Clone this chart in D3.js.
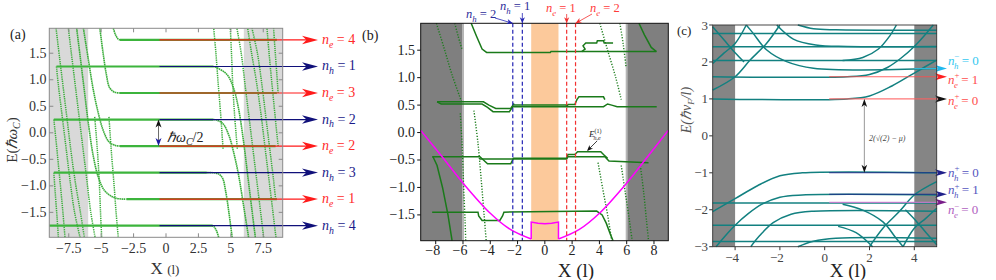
<!DOCTYPE html>
<html><head><meta charset="utf-8">
<script src="https://cdn.jsdelivr.net/npm/d3@7"></script>
<style>body{margin:0;background:#fff}svg{display:block}</style>
</head><body>
<svg id="c" width="996" height="280"></svg>
<script>
// ================= DATA =================
// ---- panel (a)
const aXTicks=[-7.5,-5,-2.5,0,2.5,5,7.5];
const aXTickLabels=["−7.5","−5","−2.5","0","2.5","5","7.5"];
const aYTicks=[-1.5,-1,-0.5,0,0.5,1,1.5];
const aYTickLabels=["−1.5","−1.0","−0.5","0.0","0.5","1.0","1.5"];
const aGrayBands=[[-9,-6],[6,9]];
const aLevels=[1.75,1.25,0.75,0.25,-0.25,-0.75,-1.25,-1.75];
const aLevelType=["e","h","e","h","e","h","e","h"];
const aLevelIndex=["4","1","3","2","2","3","1","4"];
const aPlateauStart=[-3.55,-8.45,-3.55,-8.65,-3.55,-8.65,-3.05,-9];
const aPlateauEnd=[8.55,3.65,8.55,3.65,8.45,3.15,8.55,3.6];
const aArrowStartX=-0.5;
const aCurves=[
 [[-4.06,1.97],[-3.9,1.85],[-3.7,1.77],[-3.55,1.75]],
 [[-5.1,1.97],[-4.85,1.5],[-4.6,1.1],[-4.35,0.85],[-4.0,0.77],[-3.55,0.75]],
 [[-6.37,1.97],[-6.0,1.4],[-5.6,0.8],[-5.2,0.35],[-4.85,0.05],[-4.4,-0.17],[-3.9,-0.24],[-3.55,-0.25]],
 [[-6.89,1.97],[-6.6,1.4],[-6.3,0.8],[-6.0,0.2],[-5.6,-0.45],[-5.2,-0.85],[-4.7,-1.1],[-3.9,-1.23],[-3.05,-1.25]],
 [[4.06,-1.97],[3.9,-1.85],[3.7,-1.77],[3.55,-1.75]],
 [[5.1,-1.97],[4.85,-1.5],[4.6,-1.1],[4.35,-0.85],[4.0,-0.77],[3.15,-0.75]],
 [[6.37,-1.97],[6.0,-1.4],[5.6,-0.8],[5.2,-0.35],[4.85,-0.05],[4.4,0.17],[3.9,0.24],[3.65,0.25]],
 [[6.89,-1.97],[6.6,-1.4],[6.3,-0.8],[6.0,-0.2],[5.6,0.45],[5.2,0.85],[4.7,1.1],[3.9,1.23],[3.65,1.25]]
];
const aDotted=[
 [[-8.45,1.25],[-8.3,0.9],[-8.0,0.3],[-7.7,-0.3],[-7.4,-0.9],[-7.05,-1.5],[-6.63,-1.97]],
 [[-8.65,0.25],[-8.5,-0.1],[-8.3,-0.6],[-8.1,-1.1],[-7.95,-1.5],[-7.79,-1.97]],
 [[-8.65,-0.75],[-8.55,-1.1],[-8.4,-1.6],[-8.3,-1.97]],
 [[-7.53,1.97],[-7.3,1.5],[-7.0,0.9],[-6.7,0.3],[-6.4,-0.3],[-6.1,-0.9],[-5.8,-1.5],[-5.47,-1.97]],
 [[-8.48,1.97],[-8.2,1.4],[-7.9,0.8],[-7.6,0.2],[-7.3,-0.4],[-6.95,-1.0],[-6.6,-1.5],[-6.3,-1.97]],
 [[-5.5,0.3],[-5.3,-0.3],[-5.15,-0.9],[-5.05,-1.5],[-4.96,-1.97]],
 [[-4.4,0.3],[-4.2,-0.4],[-4.0,-1.0],[-3.85,-1.5],[-3.68,-1.97]],
 [[8.45,-1.25],[8.3,-0.9],[8.0,-0.3],[7.7,0.3],[7.4,0.9],[7.05,1.5],[6.63,1.97]],
 [[8.65,-0.25],[8.5,0.1],[8.3,0.6],[8.1,1.1],[7.95,1.5],[7.79,1.97]],
 [[8.65,0.75],[8.55,1.1],[8.4,1.6],[8.3,1.97]],
 [[7.53,-1.97],[7.3,-1.5],[7.0,-0.9],[6.7,-0.3],[6.4,0.3],[6.1,0.9],[5.8,1.5],[5.47,1.97]],
 [[8.48,-1.97],[8.2,-1.4],[7.9,-0.8],[7.6,-0.2],[7.3,0.4],[6.95,1.0],[6.6,1.5],[6.3,1.97]],
 [[5.5,-0.3],[5.3,0.3],[5.15,0.9],[5.05,1.5],[4.96,1.97]],
 [[4.4,-0.3],[4.2,0.4],[4.0,1.0],[3.85,1.5],[3.68,1.97]]
];

// ---- panel (b)
const bXTicks=[-8,-6,-4,-2,0,2,4,6,8];
const bYTicks=[-1.5,-1,-0.5,0,0.5,1,1.5];
const bYTickLabels=["−1.5","−1.0","−0.5","0.0","0.5","1.0","1.5"];
const bDarkBands=[[-9.1,-6],[6,9.05]];
const bOrangeBand=[-1,1];
const bHoleDashes=[-2.35,-1.65];
const bElecDashes=[1.6,2.25];
const bPotentialLeft=[[-9.1,0.04],[-7.5,-0.45],[-6,-0.92],[-4,-1.47],[-2.5,-1.77],[-1,-1.94]];
const bPotentialMid=[[-1,-1.94],[-1,-1.63],[-0.5,-1.65],[0,-1.66],[0.5,-1.65],[1,-1.63],[1,-1.94]];
const bPotentialRight=[[1,-1.94],[2.5,-1.77],[4,-1.47],[6,-0.92],[7.5,-0.45],[9.05,0.04]];
const bSolid=[
 [[-5.4,1.99],[-5.0,1.75],[-4.6,1.52],[-4.27,1.46],[0.4,1.46],[0.45,1.475],[8.18,1.475]],
 [[2.7,1.475],[2.95,1.52],[2.8,1.58],[3.0,1.63],[3.8,1.63],[3.85,1.67],[4.3,1.67],[4.35,1.63],[5.0,1.63]],
 [[6.9,1.99],[7.3,1.78],[7.8,1.55],[8.18,1.475]],
 [[-7.9,0.56],[-4.5,0.56],[-4.1,0.5],[-3.6,0.44],[-2.5,0.44],[-2.25,0.53]],
 [[-7.9,0.56],[-7.6,0.52],[-4.6,0.52],[-4.2,0.46],[-3.8,0.38],[-2.6,0.38],[-2.35,0.47],[1.6,0.47],[1.7,0.51],[2.2,0.51],[2.35,0.6],[2.5,0.65],[4.3,0.65],[4.4,0.6]],
 [[-2.3,0.5],[1.55,0.5],[1.65,0.47],[4.3,0.47],[4.6,0.52],[4.9,0.5],[5.3,0.47],[8.2,0.47]],
 [[-8.26,-0.44],[-4.76,-0.44],[-4.5,-0.5],[-4.2,-0.57],[-2.5,-0.57],[-2.3,-0.47],[1.6,-0.47],[1.7,-0.4],[2.2,-0.4],[2.4,-0.35],[4.1,-0.35],[4.3,-0.4],[4.6,-0.47]],
 [[-4.8,-0.48],[1.6,-0.48],[1.7,-0.44],[4.4,-0.44],[4.7,-0.52],[7.6,-0.55]],
 [[-8.26,-1.45],[-4.9,-1.45],[-4.85,-1.52],[-4.6,-1.6],[-3.3,-1.6],[-3.1,-1.52],[-3.0,-1.45],[3.8,-1.43],[4.2,-1.5],[4.5,-1.65],[4.8,-1.85],[5.0,-1.97]],
 [[-8.2,-0.44],[-7.9,-0.6],[-7.5,-1.0],[-7.1,-1.5],[-6.8,-1.97]]
];
const bDotted=[
 [[-7.95,1.99],[-7.4,1.55],[-6.8,1.05],[-6.1,0.56]],
 [[-6.6,1.99],[-6.35,1.75],[-6.05,1.5]],
 [[-6.2,0.35],[-6.05,-0.3],[-5.95,-1.0],[-5.85,-1.6],[-5.8,-1.97]],
 [[-5.2,0.4],[-4.9,-0.2],[-4.65,-0.9],[-4.45,-1.5],[-4.3,-1.97]],
 [[4.03,1.99],[4.6,1.5],[5.2,1.0],[5.6,0.6]],
 [[5.5,1.99],[5.75,1.6],[5.95,1.2]],
 [[3.9,-0.55],[4.3,-1.1],[4.6,-1.5],[4.9,-1.97]],
 [[5.6,-0.6],[5.9,-1.1],[6.2,-1.6],[6.4,-1.97]],
 [[7.0,-0.6],[7.25,-1.1],[7.45,-1.6],[7.6,-1.97]]
];

// ---- panel (c)
const cXTicks=[-4,-2,0,2,4];
const cYTicks=[-3,-2,-1,0,1,2,3];
const cGrayBands=[[-5,-4],[4,5]];
const cFull=[2.77,2.41,2.04,-1.82,-2.42,-2.86];
const cCurves=[
 [[-5,1.0],[1.0,1.0],[2.0,1.08],[3.0,1.35],[4.0,1.7],[5,2.05]],
 [[-5,1.6],[1.0,1.6],[2.0,1.66],[2.8,1.85],[3.4,2.1],[4.0,2.42],[4.5,2.75],[4.85,3.0]],
 [[0.8,2.04],[1.7,2.12],[2.4,2.35],[2.9,2.7],[3.2,3.0]],
 [[-3.5,3],[-3.2,2.78],[-2.6,2.33],[-1.7,2.01],[-0.5,1.83],[5,1.82]],
 [[-2.14,3],[-1.4,2.62],[-0.4,2.46],[1,2.42],[5,2.42]],
 [[-1.2,3],[-0.5,2.9],[0.5,2.87],[5,2.86]],
 [[-5,1.24],[-4,1.6],[-3.33,2.05],[-2.6,2.5],[-2.0,3]],
 [[-5,1.96],[-4.5,2.24],[-4,2.5],[-3.5,3]],
 [[-5,2.95],[-4.5,2.6],[-4,2.25],[-3.6,2.0]],
 [[5,-1.0],[-1.0,-1.0],[-2.0,-1.08],[-3.0,-1.35],[-4.0,-1.7],[-5,-2.05]],
 [[5,-1.6],[-1.0,-1.6],[-2.0,-1.66],[-2.8,-1.85],[-3.4,-2.1],[-4.0,-2.42],[-4.5,-2.75],[-4.85,-3.0]],
 [[5,-2.04],[-0.5,-2.04],[-1.5,-2.12],[-2.3,-2.35],[-2.9,-2.7],[-3.3,-3.0]],
 [[5,-2.77],[0.5,-2.77],[-0.5,-2.85],[-1.2,-3.0]],
 [[3.5,-3],[3.2,-2.78],[2.6,-2.33],[1.7,-2.01],[0.8,-1.85]],
 [[2.14,-3],[1.4,-2.62],[0.6,-2.45]],
 [[5,-1.24],[4,-1.6],[3.33,-2.05],[2.6,-2.5],[2.0,-3]],
 [[5,-1.96],[4.5,-2.24],[4,-2.5],[3.5,-3]],
 [[5,-2.95],[4.5,-2.6],[4,-2.25],[3.6,-2.0]]
];
const cArrowE=[1.82,1.6,1.0,-1.0,-1.58,-1.8];
const cArrowStart=[4.0,0.2,0.2,0.2,0.2,0.2];
const cArrowSub=["h","e","e","h","h","e"];
const cArrowSup=["−","+","+","+","+","−"];
const cArrowVal=["0","1","0","0","1","0"];
const cLineColor=["#33c8f0","#ff4d4d","#ff6060","#23238a","#23238a","#d27ad2"];
const cHeadColor=["#1fb8ee","#ff2020","#111111","#20208a","#20208a","#7a1e8a"];
const cTextColor=["#33c8f0","#ff4d4d","#ff4d4d","#5555c0","#5555c0","#b060c0"];
const cLabelShift=[-4,7,6,4,0,12];

// ================= DRAW =================
const svg=d3.select('#c');
const serif="'Liberation Serif','Times New Roman',serif";

function head(g,x1,y1,x2,y2,color,L,Wd){
  const a=Math.atan2(y2-y1,x2-x1),c=Math.cos(a),s=Math.sin(a);
  const bx=x2-L*c,by=y2-L*s,nx=x2-L*0.72*c,ny=y2-L*0.72*s;
  const p=[[x2,y2],[bx-Wd*s,by+Wd*c],[nx,ny],[bx+Wd*s,by-Wd*c]];
  g.append('path').attr('d','M'+p.map(q=>q.join(',')).join('L')+'Z').attr('fill',color);
}
function nLabel(g,x,y,sub,sup,rest,color,fs){
  const t=g.append('text').attr('x',x).attr('y',y).attr('fill',color)
    .attr('font-family',serif).attr('font-size',fs);
  t.append('tspan').attr('font-style','italic').text('n');
  if(sup){
    t.append('tspan').attr('font-size',fs*0.68).attr('dy',-fs*0.42).text(sup);
    t.append('tspan').attr('font-size',fs*0.68).attr('font-style','italic').attr('dx',-fs*0.42).attr('dy',fs*0.72).text(sub);
    t.append('tspan').attr('dy',-fs*0.3).text('\u00a0=\u00a0'+rest);
  } else {
    t.append('tspan').attr('font-size',fs*0.7).attr('font-style','italic').attr('dy',fs*0.28).text(sub);
    t.append('tspan').attr('dy',-fs*0.28).text('\u00a0=\u00a0'+rest);
  }
}

// ---------- Panel (a) ----------
{
const x=d3.scaleLinear().domain([-9,9]).range([49.3,282.7]);
const y=d3.scaleLinear().domain([-1.97,1.97]).range([237.3,28.3]);
const g=svg.append('g');
const line=d3.line().x(d=>x(d[0])).y(d=>y(d[1])).curve(d3.curveCatmullRom.alpha(0.5));
g.selectAll('rect.gb').data(aGrayBands).join('rect')
 .attr('x',d=>x(d[0])).attr('width',d=>x(d[1])-x(d[0])).attr('y',y(1.97)).attr('height',y(-1.97)-y(1.97)).attr('fill','#d9d9d9');
g.selectAll('path.dot').data(aDotted).join('path').attr('d',line).attr('fill','none')
 .attr('stroke','#3aad3a').attr('stroke-width',1.5).attr('stroke-dasharray','1.3 0.9');
g.selectAll('path.cv').data(aCurves).join('path').attr('d',line).attr('fill','none')
 .attr('stroke','#3aad3a').attr('stroke-width',1.6).attr('stroke-dasharray','1.6 0.5');
g.selectAll('line.pl').data(aLevels).join('line')
 .attr('x1',(d,i)=>x(aPlateauStart[i])).attr('x2',(d,i)=>x(aPlateauEnd[i]))
 .attr('y1',d=>y(d)).attr('y2',d=>y(d)).attr('stroke','#3cb43c').attr('stroke-width',2.2);
const xEnd=318;
aLevels.forEach((E,i)=>{
  const col=aLevelType[i]==='e'?'#ff1a1a':'#10107a';
  g.append('line').attr('x1',x(aArrowStartX)).attr('x2',xEnd-8).attr('y1',y(E)).attr('y2',y(E)).attr('stroke',col).attr('stroke-width',1.2);
  head(g,xEnd-20,y(E),xEnd,y(E),col,16,4.2);
  nLabel(g,322,y(E)+4,aLevelType[i],null,aLevelIndex[i],aLevelType[i]==='e'?'#ff2a2a':'#1a1a8a',14);
});
g.append('rect').attr('x',x(-9)).attr('y',y(1.97)).attr('width',x(9)-x(-9)).attr('height',y(-1.97)-y(1.97))
 .attr('fill','none').attr('stroke','#8a8a8a').attr('stroke-width',1);
aXTicks.forEach((t,i)=>{
  g.append('line').attr('x1',x(t)).attr('x2',x(t)).attr('y1',y(-1.97)).attr('y2',y(-1.97)-4).attr('stroke','#8a8a8a');
  g.append('line').attr('x1',x(t)).attr('x2',x(t)).attr('y1',y(1.97)).attr('y2',y(1.97)+4).attr('stroke','#8a8a8a');
  g.append('text').attr('x',x(t)).attr('y',253).attr('text-anchor','middle').attr('font-family',serif).attr('font-size',14).attr('fill','#333').text(aXTickLabels[i]);
});
aYTicks.forEach((t,i)=>{
  g.append('line').attr('x1',x(-9)).attr('x2',x(-9)+4).attr('y1',y(t)).attr('y2',y(t)).attr('stroke','#8a8a8a');
  g.append('line').attr('x1',x(9)).attr('x2',x(9)-4).attr('y1',y(t)).attr('y2',y(t)).attr('stroke','#8a8a8a');
  g.append('text').attr('x',46.5).attr('y',y(t)+4.5).attr('text-anchor','end').attr('font-family',serif).attr('font-size',14).attr('fill','#333').text(aYTickLabels[i]);
});
const xa=x(aArrowStartX)-1;
g.append('line').attr('x1',xa).attr('x2',xa).attr('y1',y(0.25)+4).attr('y2',y(-0.25)-4).attr('stroke','#444').attr('stroke-width',0.8);
head(g,xa,y(0.1),xa,y(0.25),'#111',8,3);
head(g,xa,y(-0.1),xa,y(-0.25),'#1a1aa0',8,3);
const ht=g.append('text').attr('x',167).attr('y',142).attr('font-family',serif).attr('font-size',14).attr('fill','#222');
ht.append('tspan').attr('font-style','italic').text('ℏω');
ht.append('tspan').attr('font-size',10).attr('font-style','italic').attr('dy',3).text('C');
ht.append('tspan').attr('dy',-3).text('/2');
g.append('text').attr('x',10).attr('y',39).attr('font-family',serif).attr('font-size',14).attr('fill','#222').text('(a)');
const yl=g.append('text').attr('transform','translate(17,140) rotate(-90)').attr('text-anchor','middle').attr('font-family',serif).attr('font-size',15).attr('fill','#333');
yl.append('tspan').text('E(');yl.append('tspan').attr('font-style','italic').text('ℏω');
yl.append('tspan').attr('font-size',10).attr('font-style','italic').attr('dy',3).text('C');yl.append('tspan').attr('dy',-3).text(')');
const xl=g.append('text').attr('x',165).attr('y',274).attr('text-anchor','middle').attr('font-family',serif).attr('fill','#333');
xl.append('tspan').attr('font-size',17).text('X ');xl.append('tspan').attr('font-size',13).text('(l)');
}

// ---------- Panel (b) ----------
{
const x=d3.scaleLinear().domain([-9.1,9.05]).range([420.7,668.3]);
const y=d3.scaleLinear().domain([-1.97,1.99]).range([240.7,23.3]);
const g=svg.append('g');
const line=d3.line().x(d=>x(d[0])).y(d=>y(d[1])).curve(d3.curveCatmullRom.alpha(0.5));
const lin=d3.line().x(d=>x(d[0])).y(d=>y(d[1]));
g.selectAll('rect.db').data(bDarkBands).join('rect')
 .attr('x',d=>x(d[0])).attr('width',d=>x(d[1])-x(d[0])).attr('y',y(1.99)).attr('height',y(-1.97)-y(1.99)).attr('fill','#7f7f7f');
[-6,6].forEach(v=>g.append('rect').attr('x',x(v)-1).attr('width',2).attr('y',y(1.99)).attr('height',y(-1.97)-y(1.99)).attr('fill','#b5b5b5'));
g.append('rect').attr('x',x(bOrangeBand[0])).attr('width',x(bOrangeBand[1])-x(bOrangeBand[0])).attr('y',y(1.99)).attr('height',y(-1.97)-y(1.99)).attr('fill','#fcc99b');
g.selectAll('path.dot').data(bDotted).join('path').attr('d',line).attr('fill','none')
 .attr('stroke','#1d7d1d').attr('stroke-width',1.4).attr('stroke-dasharray','1.2 1.6');
g.selectAll('path.sol').data(bSolid).join('path').attr('d',lin).attr('fill','none')
 .attr('stroke','#1a7a1a').attr('stroke-width',1.5);
[bPotentialLeft,bPotentialRight].forEach(p=>g.append('path').attr('d',line(p)).attr('fill','none').attr('stroke','#ff00ff').attr('stroke-width',1.5));
g.append('path').attr('d',lin(bPotentialMid)).attr('fill','none').attr('stroke','#ff00ff').attr('stroke-width',1.5);
bHoleDashes.forEach(v=>g.append('line').attr('x1',x(v)).attr('x2',x(v)).attr('y1',y(1.99)).attr('y2',y(-1.97)).attr('stroke','#2424b4').attr('stroke-width',1.2).attr('stroke-dasharray','4 2.5'));
bElecDashes.forEach(v=>g.append('line').attr('x1',x(v)).attr('x2',x(v)).attr('y1',y(1.99)).attr('y2',y(-1.97)).attr('stroke','#f23030').attr('stroke-width',1.2).attr('stroke-dasharray','4 2.5'));
g.append('rect').attr('x',x(-9.1)).attr('y',y(1.99)).attr('width',x(9.05)-x(-9.1)).attr('height',y(-1.97)-y(1.99)).attr('fill','none').attr('stroke','#111').attr('stroke-width',1);
bXTicks.forEach(t=>{
  g.append('line').attr('x1',x(t)).attr('x2',x(t)).attr('y1',y(-1.97)).attr('y2',y(-1.97)+3.5).attr('stroke','#111');
  g.append('text').attr('x',x(t)+(t<0?-3:0)).attr('y',255).attr('text-anchor','middle').attr('font-family',serif).attr('font-size',14).attr('fill','#222').text(t<0?'−'+(-t):String(t));
});
bYTicks.forEach((t,i)=>{
  g.append('line').attr('x1',x(-9.1)).attr('x2',x(-9.1)-3.5).attr('y1',y(t)).attr('y2',y(t)).attr('stroke','#111');
  g.append('text').attr('x',415).attr('y',y(t)+4.5).attr('text-anchor','end').attr('font-family',serif).attr('font-size',14).attr('fill','#222').text(bYTickLabels[i]);
});
nLabel(g,466,18,'h',null,'2','#2d2d9a',12.5);
nLabel(g,500,10,'h',null,'1','#2d2d9a',12.5);
nLabel(g,546,12,'e',null,'1','#ff3a3a',12.5);
nLabel(g,590,12,'e',null,'2','#ff3a3a',12.5);
const top=y(1.99);
[[495,18,x(bHoleDashes[0]),top,'#2424b4'],[x(bHoleDashes[1]),13,x(bHoleDashes[1]),top,'#2424b4'],[x(bElecDashes[0]),14,x(bElecDashes[0]),top,'#f23030'],[592,14,x(bElecDashes[1]),top,'#f23030']].forEach(a=>{
  g.append('line').attr('x1',a[0]).attr('y1',a[1]).attr('x2',a[2]).attr('y2',a[3]).attr('stroke',a[4]).attr('stroke-width',0.8);
  head(g,a[0],a[1],a[2],a[3],a[4],6,2.6);
});
const et=g.append('text').attr('x',589).attr('y',137).attr('font-family',serif).attr('font-size',9).attr('fill','#222');
et.append('tspan').attr('font-style','italic').text('E');
et.append('tspan').attr('font-size',6).attr('dy',-4).text('(1)');
et.append('tspan').attr('font-size',6).attr('font-style','italic').attr('dx',-8).attr('dy',7).text('h,e');
g.append('line').attr('x1',597).attr('y1',141).attr('x2',588).attr('y2',150).attr('stroke','#111').attr('stroke-width',0.8);
head(g,597,141,587,151,'#111',6,2.5);
g.append('text').attr('x',362).attr('y',40).attr('font-family',serif).attr('font-size',14).attr('fill','#222').text('(b)');
g.append('text').attr('x',576).attr('y',277).attr('text-anchor','middle').attr('font-family',serif).attr('font-size',19).attr('fill','#222').text('X (l)');
}

// ---------- Panel (c) ----------
{
const x=d3.scaleLinear().domain([-5,5]).range([712.7,936.7]);
const y=d3.scaleLinear().domain([-3,3]).range([246.7,25]);
const g=svg.append('g');
const line=d3.line().x(d=>x(d[0])).y(d=>y(d[1])).curve(d3.curveCatmullRom.alpha(0.5));
g.selectAll('rect.gb').data(cGrayBands).join('rect')
 .attr('x',d=>x(d[0])).attr('width',d=>x(d[1])-x(d[0])).attr('y',y(3)).attr('height',y(-3)-y(3)).attr('fill','#858585');
g.selectAll('line.full').data(cFull).join('line').attr('x1',x(-5)).attr('x2',x(5)).attr('y1',d=>y(d)).attr('y2',d=>y(d))
 .attr('stroke','#128080').attr('stroke-width',1.5);
g.selectAll('path.cv').data(cCurves).join('path').attr('d',line).attr('fill','none')
 .attr('stroke','#128080').attr('stroke-width',1.5);
cArrowE.forEach((E,i)=>{
  g.append('line').attr('x1',x(cArrowStart[i])).attr('x2',940).attr('y1',y(E)).attr('y2',y(E)).attr('stroke',cLineColor[i]).attr('stroke-width',1.1).attr('opacity',0.85);
  head(g,930,y(E),947,y(E),cHeadColor[i],12,3.5);
  nLabel(g,948,y(E)+cLabelShift[i],cArrowSub[i],cArrowSup[i],cArrowVal[i],cTextColor[i],13);
});
const xd=x(1.77);
g.append('line').attr('x1',xd).attr('x2',xd).attr('y1',y(1)+5).attr('y2',y(-1)-5).attr('stroke','#999').attr('stroke-width',1);
head(g,xd,y(0.7),xd,y(1),'#111',8,2.8);
head(g,xd,y(-0.7),xd,y(-1),'#111',8,2.8);
g.append('text').attr('x',869).attr('y',141).attr('font-family',serif).attr('font-size',8).attr('font-style','italic').attr('fill','#444').text('2(√(2) − μ)');
g.append('rect').attr('x',x(-5)).attr('y',y(3)).attr('width',x(5)-x(-5)).attr('height',y(-3)-y(3)).attr('fill','none').attr('stroke','#333').attr('stroke-width',0.9);
cXTicks.forEach(t=>{
  g.append('line').attr('x1',x(t)).attr('x2',x(t)).attr('y1',y(-3)).attr('y2',y(-3)+3.5).attr('stroke','#333');
  g.append('text').attr('x',x(t)+(t<0?-3:0)).attr('y',262).attr('text-anchor','middle').attr('font-family',serif).attr('font-size',13).attr('fill','#444').text(t<0?'−'+(-t):String(t));
});
cYTicks.forEach(t=>{
  g.append('line').attr('x1',x(-5)).attr('x2',x(-5)-3.5).attr('y1',y(t)).attr('y2',y(t)).attr('stroke','#333');
  g.append('text').attr('x',708).attr('y',y(t)+4.5).attr('text-anchor','end').attr('font-family',serif).attr('font-size',13).attr('fill','#444').text(t<0?'−'+(-t):String(t));
});
g.append('text').attr('x',677).attr('y',35).attr('font-family',serif).attr('font-size',13).attr('fill','#222').text('(c)');
const yl=g.append('text').attr('transform','translate(691,110) rotate(-90)').attr('text-anchor','middle').attr('font-family',serif).attr('font-size',14).attr('font-style','italic').attr('fill','#555');
yl.append('tspan').text('E(ℏv');yl.append('tspan').attr('font-size',9).attr('dy',3).text('F');yl.append('tspan').attr('dy',-3).text('/l)');
g.append('text').attr('x',848).attr('y',277).attr('text-anchor','middle').attr('font-family',serif).attr('font-size',19).attr('fill','#222').text('X (l)');
}
</script></body></html>
